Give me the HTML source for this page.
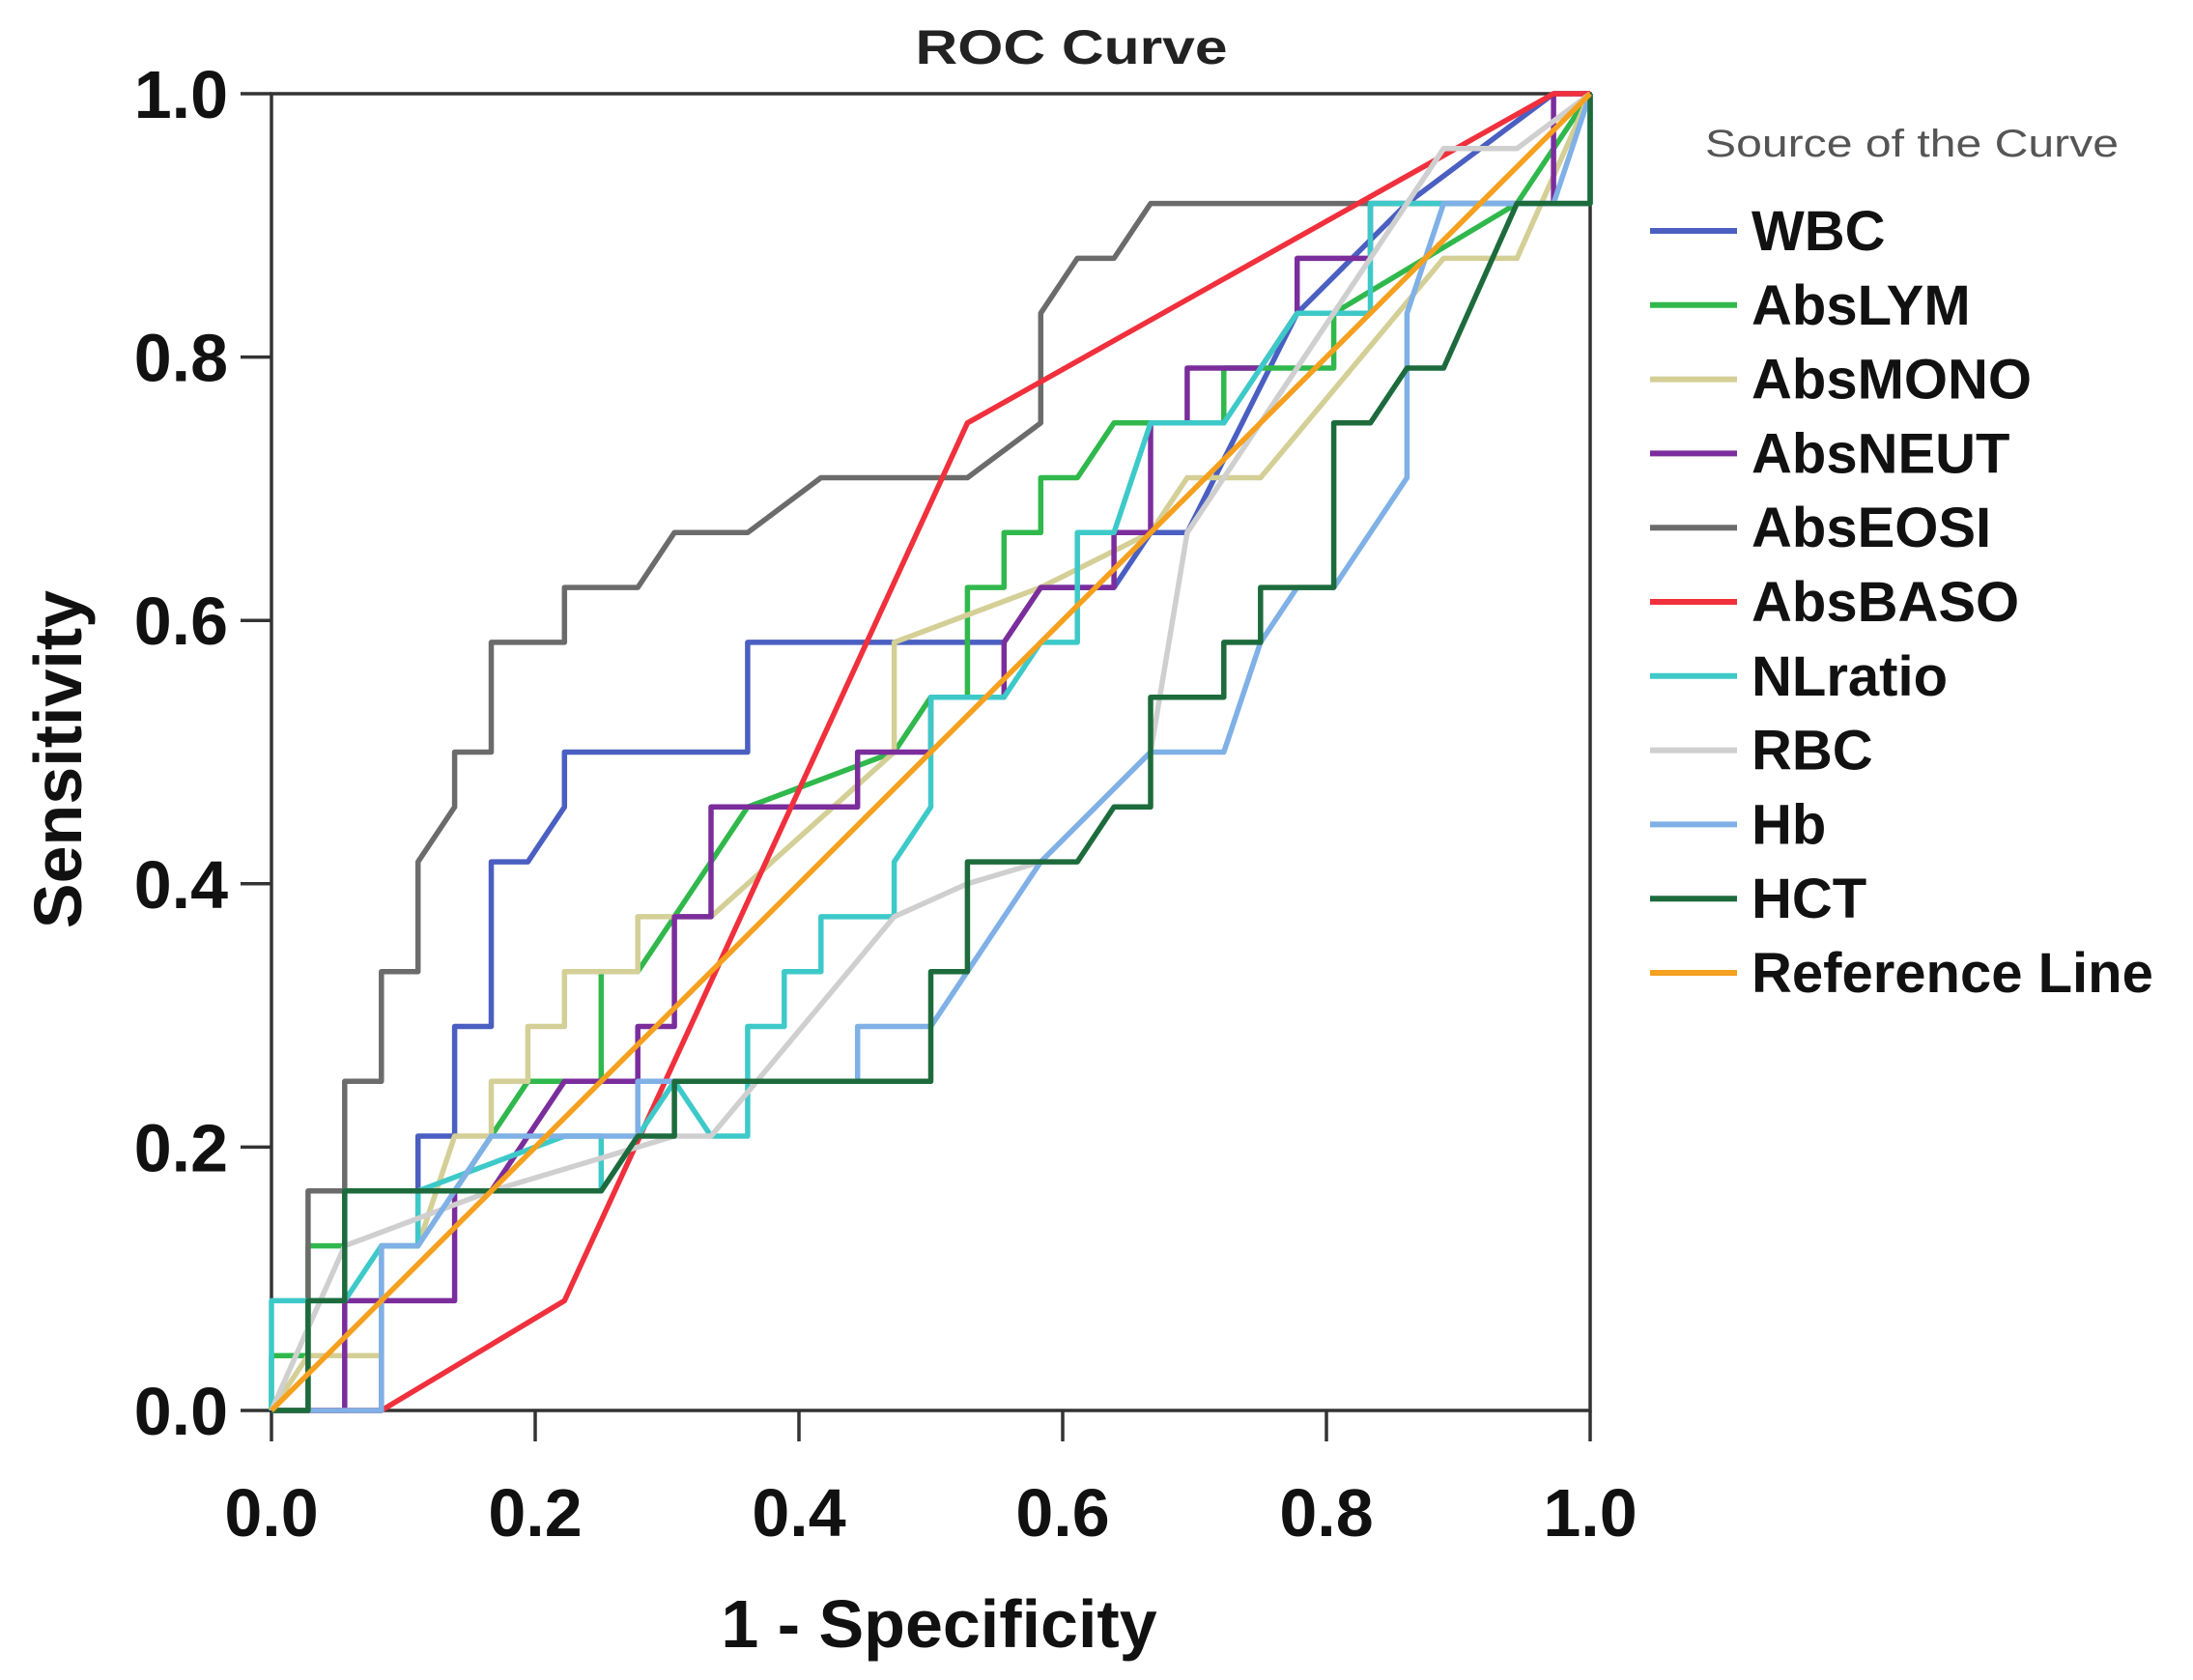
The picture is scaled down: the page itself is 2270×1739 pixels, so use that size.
<!DOCTYPE html>
<html><head><meta charset="utf-8"><style>
html,body{margin:0;padding:0;background:#fff}
svg{display:block;font-family:"Liberation Sans",Arial,sans-serif}
</style></head><body>
<svg id="chart" width="2270" height="1739" viewBox="0 0 2270 1739" xmlns="http://www.w3.org/2000/svg">
<text x="1109" y="66" font-size="50" font-weight="bold" fill="#222" text-anchor="middle" textLength="323" lengthAdjust="spacingAndGlyphs">ROC Curve</text>
<text x="972" y="1705" font-size="70" font-weight="bold" fill="#111" text-anchor="middle">1 - Specificity</text>
<text x="0" y="0" transform="translate(84,786) rotate(-90)" font-size="70" font-weight="bold" fill="#111" text-anchor="middle">Sensitivity</text>
<g id="plot"></g>
<g id="legend"></g>
</svg>
<script>
const tickValues = [0, 0.2, 0.4, 0.6, 0.8, 1.0];
const tickLabels = ["0.0", "0.2", "0.4", "0.6", "0.8", "1.0"];
const seriesNames = ["WBC","AbsLYM","AbsMONO","AbsNEUT","AbsEOSI","AbsBASO","NLratio","RBC","Hb","HCT","Reference Line"];
const seriesColors = ["#4a5fc1","#30b84c","#d4cf96","#7b2d9c","#6b6b6b","#f0303c","#3ec9c9","#cfcfcf","#7fb0e6","#1d6b3c","#f5a01e"];
// points as [false positives out of 36, true positives out of 24]
const wbc = [[0,0],[3,0],[3,3],[4,3],[4,5],[5,5],[5,7],[6,7],[6,10],[7,10],[8,11],[8,12],[13,12],[13,14],[20,14],[21,15],[23,15],[24,16],[25,16],[28,20],[31,22],[35,24],[36,24]];
const absLym = [[0,0],[0,1],[1,1],[1,3],[2,3],[2,4],[5,4],[6,5],[7,6],[9,6],[9,8],[10,8],[11,9],[13,11],[17,12],[18,13],[19,13],[19,15],[20,15],[20,16],[21,16],[21,17],[22,17],[23,18],[26,18],[26,19],[29,19],[29,20],[34,22],[36,24]];
const absMono = [[0,0],[1,1],[3,1],[3,3],[4,3],[5,5],[6,5],[6,6],[7,6],[7,7],[8,7],[8,8],[10,8],[10,9],[12,9],[17,12],[17,14],[19,14.5],[21,15],[24,16],[25,17],[27,17],[32,21],[34,21],[36,24]];
const absNeut = [[0,0],[2,0],[2,2],[5,2],[5,4],[6,4],[8,6],[10,6],[10,7],[11,7],[11,9],[12,9],[12,11],[16,11],[16,12],[18,12],[18,13],[20,13],[20,14],[21,15],[23,15],[23,16],[24,16],[24,18],[25,18],[25,19],[27,19],[28,20],[28,21],[30,21],[30,22],[35,22],[35,24],[36,24]];
const absEosi = [[0,0],[1,0],[1,4],[2,4],[2,6],[3,6],[3,8],[4,8],[4,10],[5,11],[5,12],[6,12],[6,14],[8,14],[8,15],[10,15],[11,16],[13,16],[15,17],[19,17],[21,18],[21,20],[22,21],[23,21],[24,22],[36,22],[36,24]];
const absBaso = [[0,0],[3,0],[8,2],[19,18],[35,24],[36,24]];
const nlRatio = [[0,0],[0,2],[2,2],[3,3],[4,3],[4,4],[8,5],[9,5],[9,4],[10,5],[11,6],[12,5],[13,5],[13,7],[14,7],[14,8],[15,8],[15,9],[17,9],[17,10],[18,11],[18,13],[20,13],[21,14],[22,14],[22,16],[23,16],[24,18],[26,18],[27,19],[28,20],[30,20],[30,22],[36,22],[36,24]];
const rbc = [[0,0],[2,3],[6,4],[11,5],[12,5],[17,9],[19,9.6],[21,10],[24,12],[25,16],[26,17],[32,23],[34,23],[36,24]];
const hb = [[0,0],[3,0],[3,3],[4,3],[5,4],[6,5],[10,5],[10,6],[16,6],[16,7],[18,7],[19,8],[21,10],[24,12],[26,12],[27,14],[28,15],[29,15],[31,17],[31,20],[32,22],[35,22],[36,24]];
const hct = [[0,0],[1,0],[1,2],[2,2],[2,4],[9,4],[10,5],[11,5],[11,6],[18,6],[18,8],[19,8],[19,10],[22,10],[23,11],[24,11],[24,13],[26,13],[26,14],[27,14],[27,15],[29,15],[29,18],[30,18],[31,19],[32,19],[34,22],[36,22],[36,24]];
const reference = [[0,0],[36,24]];
const seriesData = [wbc,absLym,absMono,absNeut,absEosi,absBaso,nlRatio,rbc,hb,hct,reference];
const negTotal = 36, posTotal = 24;

const X0=281, X1=1646, Y0=1460, Y1=97;
const sx = v => X0 + v*(X1-X0);
const sy = v => Y0 - v*(Y0-Y1);
const NS="http://www.w3.org/2000/svg";
const plot=document.getElementById('plot');
function mk(tag, attrs, parent){const e=document.createElementNS(NS,tag);for(const k in attrs)e.setAttribute(k,attrs[k]);(parent||plot).appendChild(e);return e;}

const frame=mk('rect',{x:X0,y:Y1,width:X1-X0,height:Y0-Y1,fill:'none',stroke:'#333','stroke-width':3.5});



tickValues.forEach((v,i)=>{
  const tx=mk('line',{x1:sx(v),x2:sx(v),y1:Y0,y2:Y0+32,stroke:'#333','stroke-width':3.5});
  
  
  const lx=mk('text',{x:sx(v),y:1590,'font-size':70,'font-weight':'bold','text-anchor':'middle',fill:'#111'});
  lx.textContent=tickLabels[i];
  
  
  const ty=mk('line',{x1:X0-32,x2:X0,y1:sy(v),y2:sy(v),stroke:'#333','stroke-width':3.5});
  
  
  const ly=mk('text',{x:236,y:sy(v)+25,'font-size':70,'font-weight':'bold','text-anchor':'end',fill:'#111'});
  ly.textContent=tickLabels[i];
  
  
});

seriesData.forEach((pts,i)=>{
  const d=pts.map((p,j)=>(j?'L':'M')+sx(p[0]/negTotal).toFixed(1)+' '+sy(p[1]/posTotal).toFixed(1)).join(' ');
  const p=mk('path',{d:d,fill:'none',stroke:seriesColors[i],'stroke-width':5.5,'stroke-linejoin':'round'});
  
  
});

const lg=document.getElementById('legend');
const lt=mk('text',{x:1765,y:162,'font-size':40,fill:'#555',textLength:428,lengthAdjust:'spacingAndGlyphs'},lg);
lt.textContent='Source of the Curve';


seriesNames.forEach((n,i)=>{
  const y=239+i*76.8;
  const l=mk('line',{x1:1708,x2:1798,y1:y,y2:y,stroke:seriesColors[i],'stroke-width':6},lg);
  
  
  const t=mk('text',{x:1813,y:y+20,'font-size':58,'font-weight':'bold',fill:'#111'},lg);
  t.textContent=n;
  
  
});
</script>
</body></html>
